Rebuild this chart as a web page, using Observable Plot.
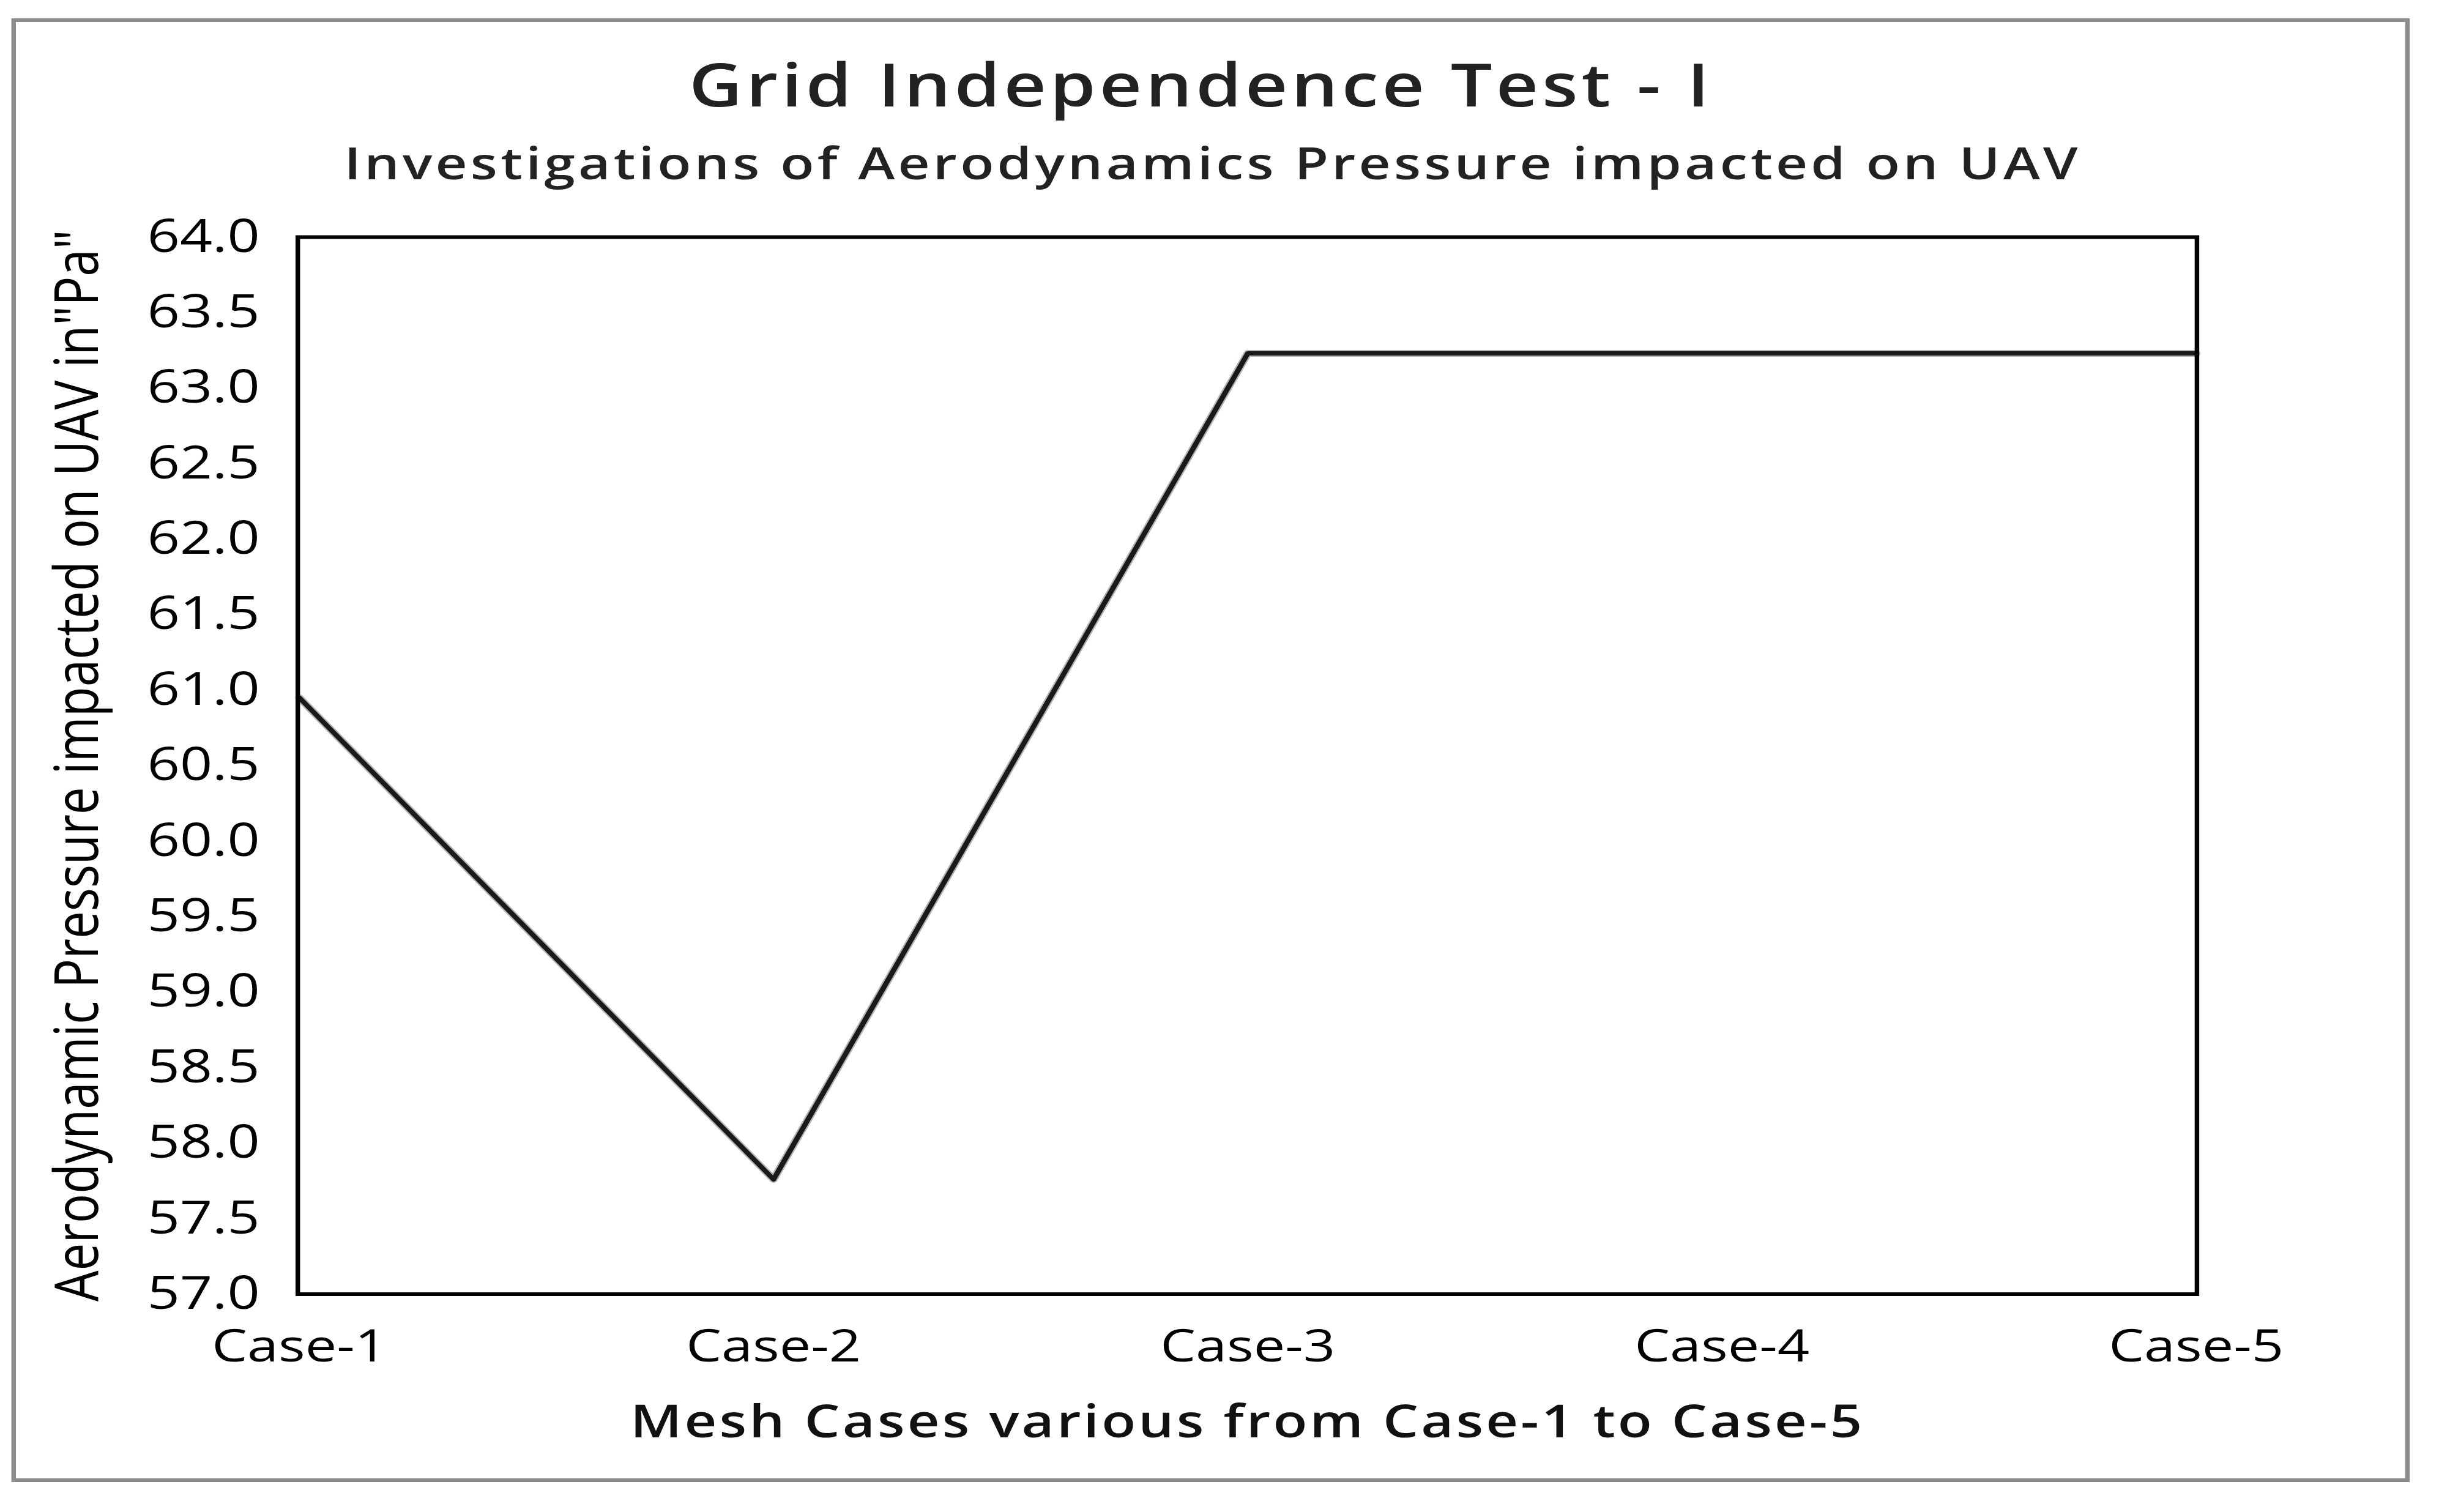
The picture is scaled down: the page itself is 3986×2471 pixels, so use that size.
<!DOCTYPE html>
<html><head><meta charset="utf-8">
<script src="https://cdn.jsdelivr.net/npm/d3@7"></script>
<script src="https://cdn.jsdelivr.net/npm/@observablehq/plot@0.6"></script>
<style>
html,body{margin:0;padding:0;background:#fff;}
body{width:3986px;height:2471px;overflow:hidden;position:relative;}
#stage{position:absolute;left:0;top:0;width:3215px;height:2471px;transform:scaleX(1.24);transform-origin:0 0;font-family:"Open Sans",sans-serif;}
#border{position:absolute;left:14.5px;top:30px;width:3161px;height:2392px;box-sizing:border-box;border:6px solid #8c8c8c;}
.t{position:absolute;white-space:nowrap;text-align:center;line-height:1;color:#222;}
#title{left:-417px;width:4000px;top:88px;font-size:97px;font-weight:600;letter-spacing:4.8px;}
#subtitle{left:-402px;width:4000px;top:228px;font-size:73px;font-weight:600;letter-spacing:4.2px;}
#chart{position:absolute;left:0;top:0;}
</style></head><body>
<div id="stage"><div id="border"></div><div id="chart"></div><div id="title" class="t"></div><div id="subtitle" class="t"></div></div>
<script>
const titleText = "Grid Independence Test - I";
const subtitleText = "Investigations of Aerodynamics Pressure impacted on UAV";
const xLabel = "Mesh Cases various from Case-1 to Case-5";
const yLabel = 'Aerodynamic Pressure impacted on UAV in"Pa"';
const cases = ["Case-1", "Case-2", "Case-3", "Case-4", "Case-5"];
const pressure = [60.95, 57.76, 63.23, 63.23, 63.23];
const yTicks = [57.0, 57.5, 58.0, 58.5, 59.0, 59.5, 60.0, 60.5, 61.0, 61.5, 62.0, 62.5, 63.0, 63.5, 64.0];

document.getElementById("title").textContent = titleText;
document.getElementById("subtitle").textContent = subtitleText;

const data = cases.map((c, i) => ({caseName: c, value: pressure[i]}));

const chart = Plot.plot({
  width: 3215,
  height: 2471,
  marginLeft: 392,
  marginRight: 320,
  marginTop: 387,
  marginBottom: 356.5,
  style: {fontFamily: "Open Sans, sans-serif", background: "transparent", color: "#000", overflow: "visible"},
  x: {type: "point", domain: cases, padding: 0, label: null},
  y: {domain: [57, 64], label: null},
  marks: [
    Plot.axisY({ticks: yTicks, tickFormat: d => d.toFixed(1), tickSize: 0, tickPadding: 50, fontSize: 75, label: null}),
    Plot.axisX({tickSize: 0, tickPadding: 57, fontSize: 74, label: null}),
    Plot.line(data, {x: "caseName", y: "value", stroke: "#b4b4b4", strokeWidth: 11}),
    Plot.line(data, {x: "caseName", y: "value", stroke: "#1a1a1a", strokeWidth: 7}),
    Plot.frame({stroke: "#000", strokeWidth: 6}),
    Plot.text([xLabel], {text: d => d, frameAnchor: "bottom", dy: 210, fontSize: 74, fontWeight: 600, lineAnchor: "middle", fill: "#111"}),
    Plot.text([yLabel], {text: d => d, frameAnchor: "left", dx: -289, rotate: -90, fontSize: 80, textAnchor: "middle", lineAnchor: "middle", fill: "#000"})
  ]
});
d3.select(chart).selectAll("text").filter(function() { return this.textContent === xLabel; }).style("letter-spacing", "3.3px");
document.getElementById("chart").appendChild(chart);
</script>
</body></html>
